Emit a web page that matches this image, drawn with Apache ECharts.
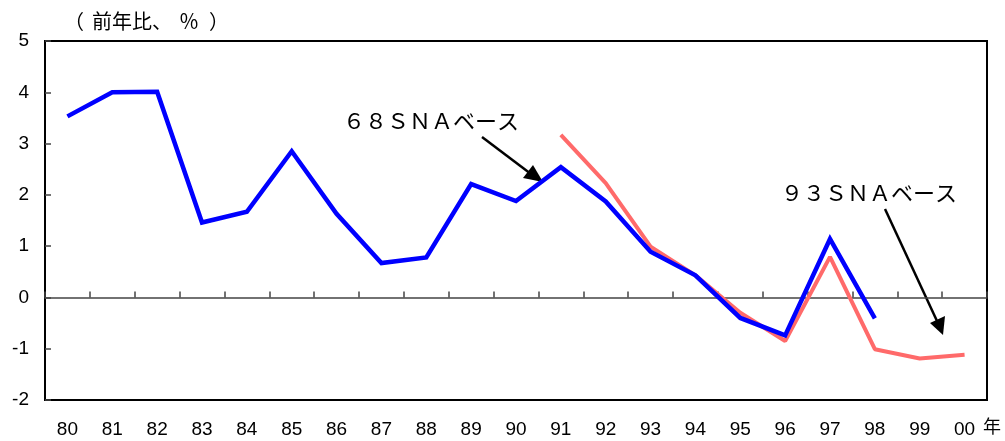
<!DOCTYPE html>
<html><head><meta charset="utf-8">
<script src="https://cdn.jsdelivr.net/npm/echarts@6/dist/echarts.min.js"></script>
<style>html,body{margin:0;padding:0;background:#fff}#c{width:1005px;height:441px}</style>
</head><body><div id="c"></div>
<script>
const categories = ['80','81','82','83','84','85','86','87','88','89','90','91','92','93','94','95','96','97','98','99','00'];
const sna68 = [3.53,4.00,4.01,1.46,1.67,2.85,1.63,0.67,0.78,2.21,1.88,2.54,1.87,0.89,0.43,-0.40,-0.74,1.14,-0.41,null,null];
const sna93 = [null,null,null,null,null,null,null,null,null,null,null,3.17,2.23,0.99,0.43,-0.30,-0.85,0.79,-1.01,-1.19,-1.12];
const yTicks = [-2,-1,0,1,2,3,4,5];
const labelFont = 'Liberation Sans, Arial, sans-serif';
const jpFont = '"Noto Sans CJK JP", sans-serif';

const chart = echarts.init(document.getElementById('c'), null, {renderer:'canvas'});
chart.setOption({
  animation:false,
  backgroundColor:'#fff',
  grid:{left:45,top:41,right:18,bottom:41,show:true,borderColor:'#000',borderWidth:2,backgroundColor:'transparent'},
  xAxis:[
    {type:'category',data:categories,boundaryGap:true,position:'bottom',
     axisLine:{show:false,onZero:false},axisTick:{show:false},
     axisLabel:{color:'#000',fontSize:19,fontFamily:labelFont,margin:20}},
    {type:'category',data:categories,boundaryGap:true,position:'bottom',
     axisLine:{show:true,onZero:true,lineStyle:{color:'#444',width:1.5}},
     axisTick:{show:true,inside:true,length:6,lineStyle:{color:'#444',width:1.5}},
     axisLabel:{show:false}}
  ],
  yAxis:{type:'value',min:yTicks[0],max:yTicks[yTicks.length-1],interval:1,
    axisLine:{show:false},
    axisTick:{show:true,inside:true,length:6,lineStyle:{color:'#444',width:1.5}},
    splitLine:{show:false},
    axisLabel:{color:'#000',fontSize:19,fontFamily:labelFont,margin:16}},
  series:[
    {name:'68SNA',type:'line',data:sna68,showSymbol:false,symbol:'none',connectNulls:false,
     lineStyle:{color:'#0000ff',width:4.5,join:'miter'},z:3},
    {name:'93SNA',type:'line',data:sna93,showSymbol:false,symbol:'none',
     lineStyle:{color:'#ff6a6a',width:4},z:2}
  ],
  graphic:[
    {type:'text',left:64,top:11,style:{text:'（',font:'20px '+jpFont,fill:'#000'}},
    {type:'text',left:92,top:11,style:{text:'前年比、',font:'20px '+jpFont,fill:'#000'}},
    {type:'text',left:179,top:11,style:{text:'％',font:'20px '+jpFont,fill:'#000'}},
    {type:'text',left:209,top:11,style:{text:'）',font:'20px '+jpFont,fill:'#000'}},
    {type:'text',left:983,top:417,style:{text:'年',font:'18px '+jpFont,fill:'#000'}},
    {type:'text',left:343,top:110,style:{text:'６８ＳＮＡベース',font:'22px '+jpFont,fill:'#000'}},
    {type:'text',left:781,top:182,style:{text:'９３ＳＮＡベース',font:'22px '+jpFont,fill:'#000'}},
    {type:'line',shape:{x1:482,y1:137,x2:531,y2:174},style:{stroke:'#000',lineWidth:2.5}},
    {type:'polygon',shape:{points:[[543,182],[523,178],[533,165]]},style:{fill:'#000'}},
    {type:'line',shape:{x1:885,y1:209,x2:937,y2:321},style:{stroke:'#000',lineWidth:2.5}},
    {type:'polygon',shape:{points:[[943,335],[930,323],[945,316]]},style:{fill:'#000'}}
  ]
});
</script></body></html>
